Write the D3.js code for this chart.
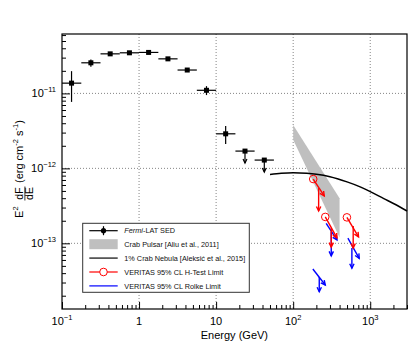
<!DOCTYPE html>
<html><head><meta charset="utf-8">
<script src="https://cdn.jsdelivr.net/npm/d3@7"></script>
<style>body{margin:0;background:#fff}svg{display:block;font-family:"Liberation Sans",Arial,sans-serif}</style>
</head><body><svg id="c" width="415" height="344"></svg>
<script>
// ---- data ----
const fermiE   = [0.133, 0.237, 0.422, 0.750, 1.33, 2.37, 4.22, 7.50, 13.3, 23.7, 42.2];
const fermiElo = [0.100, 0.178, 0.316, 0.562, 1.00, 1.78, 3.16, 5.62, 10.0, 17.8, 31.6];
const fermiEhi = [0.178, 0.316, 0.562, 1.00, 1.78, 3.16, 5.62, 10.0, 17.8, 31.6, 56.2];
const fermiF   = [1.37e-11, 2.56e-11, 3.37e-11, 3.48e-11, 3.52e-11, 2.89e-11, 2.05e-11, 1.10e-11, 2.89e-12, 1.70e-12, 1.29e-12];
const fermiFlo = [7.7e-12, 2.26e-11, 3.20e-11, 3.33e-11, 3.36e-11, 2.76e-11, 1.96e-11, 9.5e-12, 2.11e-12, null, null];
const fermiFhi = [1.98e-11, 2.84e-11, 3.55e-11, 3.64e-11, 3.68e-11, 3.02e-11, 2.15e-11, 1.25e-11, 3.66e-12, null, null];
const fermiUL  = [false, false, false, false, false, false, false, false, false, true, true];

const pulsarE  = [100, 400];
const pulsarHi = [3.8e-12, 4.0e-13];
const pulsarLo = [2.4e-12, 1.2e-13];

const nebulaE = [50, 70, 100, 150, 200, 300, 500, 700, 1000, 1500, 2000, 3000];
const nebulaF = [8.3e-13, 8.6e-13, 8.75e-13, 8.6e-13, 8.35e-13, 7.75e-13, 6.6e-13, 5.8e-13, 4.9e-13, 3.95e-13, 3.4e-13, 2.7e-13];

// VERITAS H-test limits (red)
const hE   = [182, 261, 498],  hF   = [7.2e-13, 2.25e-13, 2.22e-13];
const hE2  = [253, 370, 705],  hF2  = [4.28e-13, 1.18e-13, 1.22e-13];
const hEv  = [214, 312, 601],  hFvT = [5.46e-13, 1.6e-13, 1.7e-13], hFvB = [2.7e-13, 8.9e-14, 8.65e-14];
// VERITAS Rolke limits (blue)
const rE   = [180, 268, 513],  rF   = [4.54e-14, 1.85e-13, 1.17e-13];
const rE2  = [261, 370, 719],  rF2  = [2.78e-14, 1.11e-13, 6.3e-14];
const rEv  = [218, 312, 578],  rFvT = [3.56e-14, 1.42e-13, 8.65e-14], rFvB = [2.26e-14, 6.8e-14, 4.65e-14];

const xTicks = [0.1, 1, 10, 100, 1000];
const xTickLabels = [["10","−1"], ["1",""], ["10",""], ["10","2"], ["10","3"]];
const yTicks = [1e-11, 1e-12, 1e-13];
const yTickLabels = [["10","−11"], ["10","−12"], ["10","−13"]];

const legendLabels = ["Fermi-LAT SED", "Crab Pulsar [Aliu et al., 2011]", "1% Crab Nebula [Aleksić et al., 2015]",
  "VERITAS 95% CL H-Test Limit", "VERITAS 95% CL Rolke Limit"];

// ---- chart ----
const L = 62, R = 407, T = 34, B = 309;
const svg = d3.select("#c");
const x = d3.scaleLog().domain([0.1, 3000]).range([L, R]);
const y = d3.scaleLog().domain([1.33e-14, 6.2e-11]).range([B, T]);

// grid
const g = svg.append("g");
xTicks.slice(1).forEach(t => g.append("line").attr("x1", x(t)).attr("x2", x(t)).attr("y1", T).attr("y2", B)
  .attr("stroke", "#777").attr("stroke-dasharray", "1,2").attr("stroke-width", 0.9));
yTicks.forEach(t => g.append("line").attr("x1", L).attr("x2", R).attr("y1", y(t)).attr("y2", y(t))
  .attr("stroke", "#777").attr("stroke-dasharray", "1,2").attr("stroke-width", 0.9));

// axes (ticks inside)
const isMajor = v => Math.abs(Math.log10(v) - Math.round(Math.log10(v))) < 1e-6;
const xAx = svg.append("g").attr("transform", `translate(0,${B})`)
  .call(d3.axisBottom(x).ticks(10).tickFormat("").tickSizeOuter(0).tickSizeInner(-4));
xAx.select(".domain").remove();
xAx.selectAll(".tick").each(function(d){ d3.select(this).select("line").attr("y2", isMajor(d) ? -7 : -4); });
const yAx = svg.append("g").attr("transform", `translate(${L},0)`)
  .call(d3.axisLeft(y).ticks(10).tickFormat("").tickSizeOuter(0).tickSizeInner(-4));
yAx.select(".domain").remove();
yAx.selectAll(".tick").each(function(d){ d3.select(this).select("line").attr("x2", isMajor(d) ? 8 : 4); });
svg.selectAll(".tick line").attr("stroke", "#000").attr("stroke-width", 1);

// tick labels
xTicks.forEach((t, i) => {
  const [b, s] = xTickLabels[i];
  const tx = svg.append("text").attr("x", x(t)).attr("y", 325).attr("text-anchor", "middle").attr("font-size", 11);
  tx.append("tspan").text(b);
  if (s) tx.append("tspan").attr("dy", -5).attr("font-size", 7.5).text(s);
});
yTicks.forEach((t, i) => {
  const [b, s] = yTickLabels[i];
  const tx = svg.append("text").attr("x", 56).attr("y", y(t) + 4).attr("text-anchor", "end").attr("font-size", 11);
  tx.append("tspan").text(b);
  tx.append("tspan").attr("dy", -5).attr("font-size", 7.5).text(s);
});

// axis titles
svg.append("text").attr("x", 268).attr("y", 339).attr("text-anchor", "end").attr("font-size", 11).text("Energy (GeV)");
const yl = svg.append("g").attr("transform", "translate(22.5,218) rotate(-90)");
yl.append("text").attr("x", 0).attr("y", 0).attr("font-size", 11).text("E");
yl.append("text").attr("x", 7.5).attr("y", -5).attr("font-size", 7.5).text("2");
yl.append("text").attr("x", 24.5).attr("y", 0.8).attr("text-anchor", "middle").attr("font-size", 10.5).text("dF");
yl.append("line").attr("x1", 17.5).attr("x2", 31.5).attr("y1", 2.4).attr("y2", 2.4).attr("stroke", "#000").attr("stroke-width", 0.8);
yl.append("text").attr("x", 24.5).attr("y", 10.8).attr("text-anchor", "middle").attr("font-size", 10.5).text("dE");
const yt = yl.append("text").attr("x", 35).attr("y", 0).attr("font-size", 11);
yt.append("tspan").text("(erg cm");
yt.append("tspan").attr("dy", -5).attr("font-size", 7.5).text("-2");
yt.append("tspan").attr("dy", 5).text(" s");
yt.append("tspan").attr("dy", -5).attr("font-size", 7.5).text("-1");
yt.append("tspan").attr("dy", 5).text(")");

// pulsar band
const bandPts = pulsarE.map((e, i) => [x(e), y(pulsarHi[i])])
  .concat(pulsarE.map((e, i) => [x(e), y(pulsarLo[i])]).reverse());
svg.append("path").attr("d", "M" + bandPts.join("L") + "Z").attr("fill", "#bfbfbf");

// nebula curve
svg.append("path").datum(nebulaE.map((e, i) => [e, nebulaF[i]]))
  .attr("d", d3.line().x(d => x(d[0])).y(d => y(d[1])).curve(d3.curveMonotoneX))
  .attr("fill", "none").attr("stroke", "#000").attr("stroke-width", 1.5);

function arrow(sel, x1, y1, x2, y2, color, w, hl) {
  sel.append("line").attr("x1", x1).attr("y1", y1).attr("x2", x2).attr("y2", y2)
    .attr("stroke", color).attr("stroke-width", w);
  const a = Math.atan2(y2 - y1, x2 - x1), h = hl || 5, s = 0.45;
  const p1 = [x2 - h * Math.cos(a - s), y2 - h * Math.sin(a - s)];
  const p2 = [x2 - h * Math.cos(a + s), y2 - h * Math.sin(a + s)];
  sel.append("path").attr("d", `M${p1}L${x2},${y2}L${p2}`).attr("fill", "none")
    .attr("stroke", color).attr("stroke-width", w);
}

// fermi
const fg = svg.append("g");
fermiE.forEach((e, i) => {
  const cx = x(e), cy = y(fermiF[i]);
  fg.append("line").attr("x1", x(fermiElo[i])).attr("x2", x(fermiEhi[i])).attr("y1", cy).attr("y2", cy)
    .attr("stroke", "#000").attr("stroke-width", 1.2);
  if (fermiUL[i]) {
    arrow(fg, cx, cy, cx, cy + 12, "#000", 1.2, 4.5);
  } else {
    fg.append("line").attr("x1", cx).attr("x2", cx).attr("y1", y(fermiFhi[i])).attr("y2", y(fermiFlo[i]))
      .attr("stroke", "#000").attr("stroke-width", 1.2);
  }
  fg.append("rect").attr("x", cx - 2.5).attr("y", cy - 2.5).attr("width", 5).attr("height", 5).attr("fill", "#000");
});

// VERITAS limits
function limits(E, F, E2, F2, Ev, FvT, FvB, color, circ) {
  const lg = svg.append("g");
  E.forEach((e, i) => {
    arrow(lg, x(e), y(F[i]), x(E2[i]), y(F2[i]), color, 1.4, 5);
    arrow(lg, x(Ev[i]), y(FvT[i]), x(Ev[i]), y(FvB[i]), color, 1.4, 5);
    if (circ) lg.append("circle").attr("cx", x(e)).attr("cy", y(F[i])).attr("r", 3.8)
      .attr("fill", "none").attr("stroke", color).attr("stroke-width", 1);
  });
}
limits(rE, rF, rE2, rF2, rEv, rFvT, rFvB, "#0000ff", false);
limits(hE, hF, hE2, hF2, hEv, hFvT, hFvB, "#ff0000", true);

// frame
svg.append("rect").attr("x", L).attr("y", T).attr("width", R - L).attr("height", B - T)
  .attr("fill", "none").attr("stroke", "#000").attr("stroke-width", 1.2);

// legend
const lgd = svg.append("g");
lgd.append("rect").attr("x", 82.7).attr("y", 223.3).attr("width", 166.6).attr("height", 69)
  .attr("fill", "#fff").attr("stroke", "#333").attr("stroke-width", 1);
const rows = [230.7, 244.2, 258.1, 272, 285.9];
const sx1 = 89.3, sx2 = 117.7, sxm = 103.5;
lgd.append("line").attr("x1", sx1).attr("x2", sx2).attr("y1", rows[0]).attr("y2", rows[0]).attr("stroke", "#000").attr("stroke-width", 1.2);
lgd.append("line").attr("x1", sxm).attr("x2", sxm).attr("y1", rows[0] - 4.5).attr("y2", rows[0] + 4.5).attr("stroke", "#000").attr("stroke-width", 1.2);
lgd.append("circle").attr("cx", sxm).attr("cy", rows[0]).attr("r", 2.6).attr("fill", "#000");
lgd.append("rect").attr("x", sx1).attr("y", rows[1] - 5).attr("width", sx2 - sx1).attr("height", 10).attr("fill", "#bfbfbf");
lgd.append("line").attr("x1", sx1).attr("x2", sx2).attr("y1", rows[2]).attr("y2", rows[2]).attr("stroke", "#444").attr("stroke-width", 1.6);
lgd.append("line").attr("x1", sx1).attr("x2", sx2).attr("y1", rows[3]).attr("y2", rows[3]).attr("stroke", "#ff0000").attr("stroke-width", 1.2);
lgd.append("circle").attr("cx", sxm).attr("cy", rows[3]).attr("r", 3.8).attr("fill", "#fff").attr("stroke", "#ff0000").attr("stroke-width", 1);
lgd.append("line").attr("x1", sx1).attr("x2", sx2).attr("y1", rows[4]).attr("y2", rows[4]).attr("stroke", "#0000ff").attr("stroke-width", 1.2);
legendLabels.forEach((t, i) => {
  const tx = lgd.append("text").attr("x", 124.3).attr("y", rows[i] + 2.6).attr("font-size", 7.3).attr("fill", "#111");
  if (i === 0) { tx.append("tspan").attr("font-style", "italic").text("Fermi"); tx.append("tspan").text(t.slice(5)); }
  else tx.text(t);
});
</script></body></html>
